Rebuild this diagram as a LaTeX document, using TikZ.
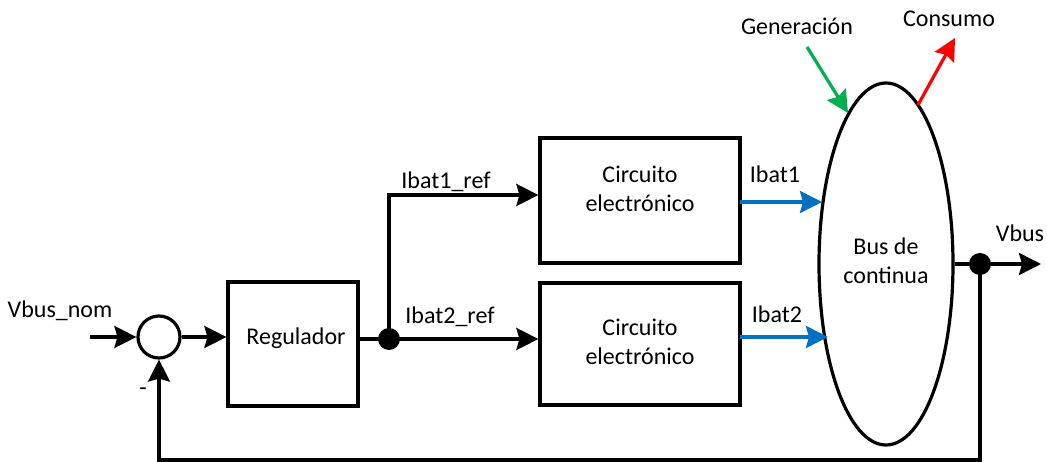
\documentclass[tikz,border=0pt]{standalone}
\usepackage{fontspec}
\setmainfont{Carlito}
\usetikzlibrary{arrows.meta,shapes.geometric}
\definecolor{obl}{RGB}{0,112,192}
\definecolor{ogr}{RGB}{0,176,80}
\definecolor{ored}{RGB}{255,0,0}
\begin{document}
\begin{tikzpicture}[x=1pt,y=-1pt,
  every node/.style={font=\fontsize{24}{29}\selectfont},
  ln/.style={line width=3.2pt},
  arr/.style={line width=3.2pt,-{Stealth[length=22pt,width=22pt,inset=3pt]}},
  blk/.style={draw,line width=3.2pt,fill=white,inner sep=0pt},
  dot/.style={circle,fill=black,minimum size=22pt,inner sep=0pt},
  txt/.style={inner sep=0pt,align=center}]
\useasboundingbox (0,0) rectangle (1047,462);
% blocks
\node[blk,circle,minimum size=42pt] (sum) at (159,337) {};
\node[blk,minimum width=130pt,minimum height=124pt] (reg) at (293,344) {};
\node[txt] (regt) at (296,338) {Regulador};
\node[blk,minimum width=200pt,minimum height=125pt] (b1) at (640,200.5) {};
\node[txt] (b1t) at (640,188.5) {Circuito\\electrónico};
\node[blk,minimum width=200pt,minimum height=122pt] (b2) at (640,344) {};
\node[txt] (b2t) at (640,342) {Circuito\\electrónico};
\node[blk,ellipse,minimum width=134pt,minimum height=362pt] (bus) at (886,264) {};
\node[txt] (bust) at (886,261) {Bus de\\continua};
\node[dot] (d1) at (389,339) {};
\node[dot] (d2) at (980,264) {};
% coordinates
\coordinate (in) at (90,337);
\coordinate (i1a) at (740,202);
\coordinate (i1b) at (822,202);
\coordinate (i2a) at (740,337);
\coordinate (i2b) at (828,337);
\coordinate (ga) at (807,47);
\coordinate (gb) at (848,113);
\coordinate (ca) at (918,105);
\coordinate (cb) at (955,38);
\coordinate (vout) at (1041,264);
\coordinate (fb) at (980,460);
% connectors
\draw[arr] (in) -- (sum.west);
\draw[arr] (sum.east) -- (sum.east -| reg.west);
\draw[ln] (reg.east |- d1) -- (d1.center);
\draw[arr] (d1.center) |- (b1.west |- 0,195);
\draw[arr] (d1.center) -- (d1 -| b2.west);
\draw[arr,obl] (i1a) -- (i1b);
\draw[arr,obl] (i2a) -- (i2b);
\draw[arr,ogr] (ga) -- (gb);
\draw[arr,ored] (ca) -- (cb);
\draw[ln] (bus.east) -- (d2.center);
\draw[arr] (d2.center) -- (vout);
\draw[arr] (d2.center) -- (fb) -| (sum.south);
% labels
\node[txt] (l1) at (60,311) {Vbus\_nom};
\node[txt] (l2) at (446,182) {Ibat1\_ref};
\node[txt] (l3) at (450,317) {Ibat2\_ref};
\node[txt] (l4) at (775,174) {Ibat1};
\node[txt] (l5) at (777,314) {Ibat2};
\node[txt] (l6) at (1020,233) {Vbus};
\node[txt] (l7) at (797,26) {Generación};
\node[txt] (l8) at (949,19) {Consumo};
\node[txt] (l9) at (143,392) {-};
\end{tikzpicture}
\end{document}
